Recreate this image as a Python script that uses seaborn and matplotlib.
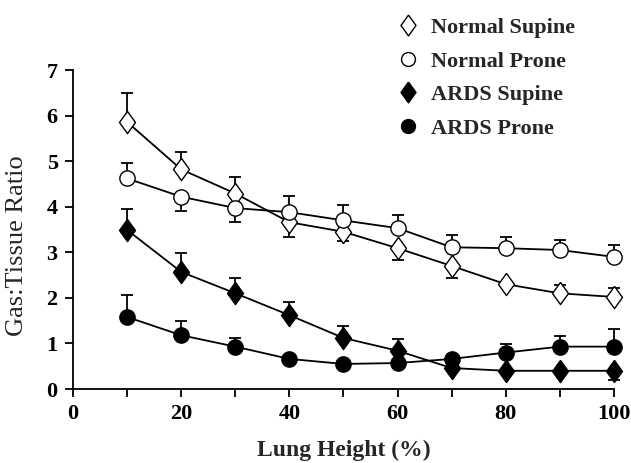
import numpy as np
import pandas as pd
import matplotlib
matplotlib.use("Agg")
import matplotlib.pyplot as plt
from matplotlib.lines import Line2D
import seaborn as sns

# lung height (%)
height = [10, 20, 30, 40, 50, 60, 70, 80, 90, 100]

# gas:tissue ratio per group
normal_supine = [5.86, 4.82, 4.29, 3.66, 3.45, 3.09, 2.7, 2.3, 2.1, 2.02]
normal_prone = [4.62, 4.22, 3.97, 3.88, 3.7, 3.53, 3.11, 3.09, 3.05, 2.9]
ards_supine = [3.49, 2.57, 2.1, 1.62, 1.12, 0.84, 0.46, 0.4, 0.4, 0.4]
ards_prone = [1.58, 1.18, 0.93, 0.66, 0.55, 0.57, 0.66, 0.8, 0.93, 0.93]

# one-sided error bars (lower, upper)
normal_supine_lo = [0, 0, 0, 0.33, 0.2, 0.27, 0.27, 0, 0, 0]
normal_supine_hi = [0.63, 0.38, 0.36, 0, 0, 0, 0, 0.05, 0.18, 0.19]
normal_prone_lo = [0, 0.32, 0.31, 0, 0, 0, 0, 0, 0, 0]
normal_prone_hi = [0.33, 0, 0, 0.35, 0.33, 0.29, 0.27, 0.24, 0.22, 0.26]
ards_supine_lo = [0, 0, 0, 0, 0, 0, 0, 0, 0, 0.2]
ards_supine_hi = [0.46, 0.41, 0.34, 0.28, 0.26, 0.26, 0, 0, 0, 0]
ards_prone_lo = [0, 0, 0, 0, 0, 0, 0, 0, 0, 0]
ards_prone_hi = [0.48, 0.31, 0.19, 0, 0, 0, 0, 0.19, 0.23, 0.38]

groups = ["Normal Supine", "Normal Prone", "ARDS Supine", "ARDS Prone"]

sns.set_style("ticks")
plt.rcParams["font.family"] = ["Liberation Serif", "DejaVu Serif"]

df = pd.DataFrame({
    "height": height * 4,
    "ratio": normal_supine + normal_prone + ards_supine + ards_prone,
    "group": np.repeat(groups, len(height)),
})
errs = {
    "Normal Supine": (normal_supine_lo, normal_supine_hi),
    "Normal Prone": (normal_prone_lo, normal_prone_hi),
    "ARDS Supine": (ards_supine_lo, ards_supine_hi),
    "ARDS Prone": (ards_prone_lo, ards_prone_hi),
}
# slightly squat diamond like the original figure
diamond = [(0, 1), (0.72, 0), (0, -1), (-0.72, 0), (0, 1)]
styles = {
    "Normal Supine": dict(marker=diamond, mfc="white", ms=16),
    "Normal Prone": dict(marker="o", mfc="white", ms=11),
    "ARDS Supine": dict(marker=diamond, mfc="black", ms=16),
    "ARDS Prone": dict(marker="o", mfc="black", ms=11),
}

fig = plt.figure(figsize=(6.31, 4.63), dpi=100)
ax = fig.add_axes([0.1157, 0.1598, 0.8573, 0.689])

for g in groups:
    sub = df[df["group"] == g]
    lo, hi = errs[g]
    ax.errorbar(sub["height"], sub["ratio"], yerr=[lo, hi], fmt="none",
                ecolor="black", elinewidth=1.3, capsize=4.5, capthick=1.3,
                zorder=2, clip_on=False)
    st = styles[g]
    sns.lineplot(data=sub, x="height", y="ratio", ax=ax, color="black",
                 linewidth=1.3, marker=st["marker"], markersize=st["ms"],
                 markerfacecolor=st["mfc"], markeredgecolor="black",
                 markeredgewidth=1.0, legend=False, zorder=3, clip_on=False)

ax.set_xlim(0, 100)
ax.set_ylim(0, 7)
ax.set_xticks([0, 20, 40, 60, 80, 100])
ax.set_xticks([10, 30, 50, 70, 90], minor=True)
ax.set_yticks(range(0, 8))
ax.tick_params(axis="both", which="both", direction="out", length=6,
               width=1.3, labelsize=16, colors="black", pad=5)
for lab in ax.get_xticklabels() + ax.get_yticklabels():
    lab.set_fontweight("bold")
sns.despine(ax=ax)
for sp in ["left", "bottom"]:
    ax.spines[sp].set_linewidth(1.3)
    ax.spines[sp].set_color("black")

ax.set_xlabel("Lung Height (%)", fontsize=17, fontweight="bold")
ax.xaxis.set_label_coords(0.5, -0.158)
ax.set_ylabel("Gas:Tissue Ratio", fontsize=19)
ax.yaxis.set_label_coords(-0.083, 0.45)

handles = [Line2D([], [], linestyle="none", marker=styles[g]["marker"],
                  markersize=styles[g]["ms"] - 1, markerfacecolor=styles[g]["mfc"],
                  markeredgecolor="black") for g in groups]
leg = fig.legend(handles, groups, loc="upper left", bbox_to_anchor=(0.597, 1.005),
                 frameon=False, handletextpad=0.55, labelspacing=0.58,
                 handlelength=1.0, prop={"weight": "bold", "size": 16})

fig.savefig("out.png", dpi=100)
